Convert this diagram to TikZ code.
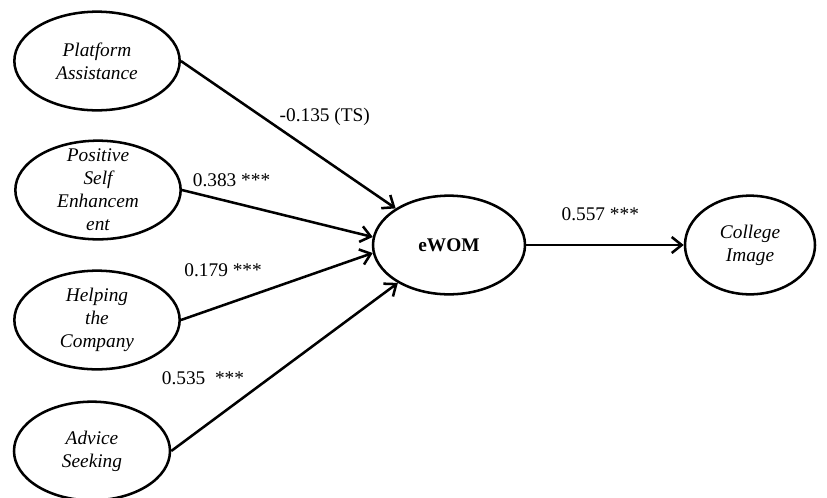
\documentclass[tikz,border=0pt]{standalone}
\usepackage{fontspec}
\setmainfont{Liberation Serif}
\usetikzlibrary{shapes.geometric,arrows.meta}

\begin{document}
\begin{tikzpicture}[x=0.75pt, y=-0.75pt, line width=1.9pt, font=\fontsize{14.5pt}{17.25pt}\selectfont,
  main/.style = {draw, ellipse, align=center, font=\fontsize{14.5pt}{17.25pt}\selectfont\itshape, minimum width=124pt, minimum height=74pt, inner sep=0pt},
  arr/.style = {-{Straight Barb[length=7.5pt, width=12pt]}}]
\useasboundingbox (0,0) rectangle (827,497);
\node[main] (pa) at (97,61) {Platform\\Assistance};
\node[main] (pse) at (98,190) {};
\node[main, draw=none] (pset) at (pse) {Positive\\Self\\Enhancem\\ent};
\node[main] (hc) at (97,320) {Helping\\the\\Company};
\node[main, minimum width=117pt] (as) at (92,451) {Advice\\Seeking};
\node[main, minimum width=114pt, font=\fontsize{14.5pt}{17.25pt}\selectfont\bfseries] (ewom) at (449,245) {eWOM};
\node[main, minimum width=97.5pt] (ci) at (750,245) {College\\Image};
\draw[arr] (pa.east) -- node[pos=0.67, above=21pt] {-0.135 (TS)} (ewom);
\draw[arr] (pse.east) -- node[pos=0.26, above=7pt] {0.383 ***} (ewom.174);
\draw[arr] (hc.east) -- node[pos=0.22, above=17pt] {0.179 ***} (ewom.186);
\draw[arr] (as.east) -- node[pos=0.14, above=27.6pt] {0.535~~***} (ewom);
\draw[arr] (ewom) -- node[pos=0.47, above=14pt] {0.557 ***} (ci);
\end{tikzpicture}
\end{document}
